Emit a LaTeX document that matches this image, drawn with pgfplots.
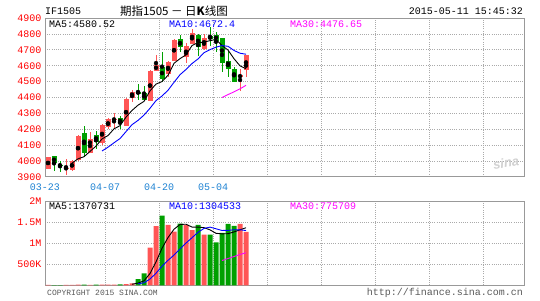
\documentclass[border=0pt]{standalone}
\usepackage{pgfplots}
\pgfplotsset{compat=1.18}
\usepackage{pgfplotstable}
\usepackage{fontspec}
\setmainfont{Liberation Sans}
\setmonofont{Liberation Mono}
\newfontfamily\cjk{Noto Sans CJK SC}
\definecolor{upc}{RGB}{255,85,85}
\definecolor{dnc}{RGB}{0,160,0}
\definecolor{tickred}{RGB}{255,0,0}
\definecolor{dateblue}{RGB}{30,130,210}
\definecolor{framec}{RGB}{153,153,153}
\definecolor{gridc}{RGB}{170,170,170}
\definecolor{ma10c}{RGB}{0,0,255}
\definecolor{ma30c}{RGB}{255,0,255}

% x = candle centre, o h l c = open high low close, v = volume (thousands)
\pgfplotstableread{
x o h l c v
0.5 3952 4026 3950 4023 8
3.5 3953 4011 3910 3955 9
4.5 3945 4006 3940 4000 10
5.5 4005 4162 4000 4157 14
7.5 4052 4185 4048 4138 12
9.5 4115 4233 4100 4227 18
10.5 4212 4268 4200 4262 15
11.5 4260 4300 4200 4264 16
13.5 4222 4395 4220 4392 30
14.5 4400 4447 4372 4437 45
17.5 4380 4572 4378 4569 895
18.5 4570 4668 4565 4604 1410
20.5 4548 4632 4530 4625 1436
21.5 4632 4766 4630 4762 1276
23.5 4653 4745 4615 4724 1436
24.5 4737 4829 4735 4808 1315
26.5 4704 4797 4700 4773 1205
32.5 4527 4578 4443 4542 1460
33.5 4574 4670 4531 4668 1270
}\uptab
\pgfplotstableread{
x o h l c v
1.5 4031 4032 3939 3985 6
2.5 3975 4002 3933 3972 7
6.5 4174 4220 4023 4052 15
8.5 4164 4187 4074 4122 14
12.5 4270 4283 4200 4237 20
15.5 4433 4485 4384 4428 150
16.5 4430 4472 4378 4384 286
19.5 4590 4688 4500 4517 1657
22.5 4768 4794 4687 4716 1467
25.5 4794 4800 4661 4720 1440
27.5 4787 4841 4724 4766 1205
28.5 4794 4814 4688 4758 1025
29.5 4772 4775 4562 4619 1250
30.5 4632 4695 4531 4578 1460
31.5 4580 4594 4498 4500 1415
}\dntab
\pgfplotstableread{
x y
4.5 3987
5.5 4013.8
6.5 4027.2
7.5 4060.4
8.5 4093.8
9.5 4139.2
10.5 4160.2
11.5 4202.6
12.5 4222.4
13.5 4276.4
14.5 4318.4
15.5 4351.6
16.5 4375.6
17.5 4442
18.5 4484.4
19.5 4500.4
20.5 4539.8
21.5 4615.4
22.5 4644.8
23.5 4668.8
24.5 4727
25.5 4746
26.5 4748.2
27.5 4758.2
28.5 4765
29.5 4727.2
30.5 4698.8
31.5 4644.2
32.5 4599.4
33.5 4580.5
}\maf
\pgfplotstableread{
x y
9.5 4063.1
10.5 4087
11.5 4114.9
12.5 4141.4
13.5 4185.1
14.5 4228.8
15.5 4255.9
16.5 4289.1
17.5 4332.2
18.5 4380.4
19.5 4409.4
20.5 4445.7
21.5 4495.5
22.5 4543.4
23.5 4576.6
24.5 4613.7
25.5 4642.9
26.5 4681.8
27.5 4701.5
28.5 4716.9
29.5 4727.1
30.5 4722.4
31.5 4696.2
32.5 4678.8
33.5 4672.4
}\mat
\pgfplotstableread{
x y
29.5 4399.9
30.5 4418.4
31.5 4435.5
32.5 4454.5
33.5 4476.7
}\mah
\pgfplotstableread{
x y
14.5 25.2
15.5 52.2
16.5 106.2
17.5 281.2
18.5 557.2
19.5 879.6
20.5 1136.8
21.5 1334.8
22.5 1449.2
23.5 1454.4
24.5 1386
25.5 1386.8
26.5 1372.6
27.5 1320.2
28.5 1238
29.5 1225
30.5 1229
31.5 1271
32.5 1322
33.5 1370.7
}\vmaf
\pgfplotstableread{
x y
15.5 33.5
16.5 60.6
17.5 148.9
18.5 288.5
19.5 452.4
20.5 594.5
21.5 720.5
22.5 865.2
23.5 1005.8
24.5 1132.8
25.5 1261.8
26.5 1353.7
27.5 1384.7
28.5 1346.2
29.5 1305.5
30.5 1307.9
31.5 1321.8
32.5 1321.1
33.5 1304.5
}\vmat
\pgfplotstableread{
x y
29.5 589.7
30.5 638.1
31.5 685.1
32.5 733.5
33.5 775.7
}\vmah

\pgfplotsset{
  kbase/.style={
    scale only axis, width=479pt, xmin=0, xmax=79.83,
    axis line style={framec, line width=1pt},
    major tick length=0pt,
    xmajorgrids, ymajorgrids,
    major grid style={gridc, line width=0.8pt, dash pattern=on 1pt off 1.2pt},
    xtick={0,10,19,28,37,46,55,64,73},
    ticklabel style={font=\ttfamily\fontsize{10}{12}\selectfont},
    yticklabel style={text=tickred},
    xticklabel style={text=dateblue, yshift=-3pt},
  },
  candle/.style={only marks, mark=none, forget plot,
    error bars/.cd, y dir=both, y explicit, error mark=none,
    error bar style={draw=#1, line width=1pt}},
  body/.style={only marks, mark=none, forget plot,
    error bars/.cd, y dir=both, y explicit, error mark=none,
    error bar style={draw=#1, line width=5pt}},
}

\begin{document}
\begin{tikzpicture}
\useasboundingbox (0pt,0pt) rectangle (540pt,300pt);
\begin{axis}[kbase,
  at={(45pt,123.1pt)}, anchor=south west, height=158.8pt,
  ymin=3900, ymax=4900,
  ytick={3900,4000,4100,4200,4300,4400,4500,4600,4700,4800,4900},
  yticklabels={3900,4000,4100,4200,4300,4400,4500,4600,4700,4800,4900},
  xticklabels={03-23,04-07,04-20,05-04,,,,,},
]
\addplot[candle=upc] table[x=x, y expr={(\thisrow{h}+\thisrow{l})/2}, y error expr={(\thisrow{h}-\thisrow{l})/2}] {\uptab};
\addplot[candle=dnc] table[x=x, y expr={(\thisrow{h}+\thisrow{l})/2}, y error expr={(\thisrow{h}-\thisrow{l})/2}] {\dntab};
\addplot[body=upc] table[x=x, y expr={(\thisrow{o}+\thisrow{c})/2}, y error expr={max(abs(\thisrow{c}-\thisrow{o})/2,3)}] {\uptab};
\addplot[body=dnc] table[x=x, y expr={(\thisrow{o}+\thisrow{c})/2}, y error expr={max(abs(\thisrow{c}-\thisrow{o})/2,3)}] {\dntab};
\addplot[black, line width=0.9pt, mark=none] table[x=x,y=y] {\maf};
\addplot[ma10c, line width=0.9pt, mark=none] table[x=x,y=y] {\mat};
\addplot[ma30c, line width=0.9pt, mark=none] table[x=x,y=y] {\mah};
\end{axis}
\begin{axis}[kbase,
  at={(45pt,14.7pt)}, anchor=south west, height=84pt,
  ymin=0, ymax=2000,
  ytick={500,1000,1500,2000},
  yticklabels={500K,1M,1.5M,2M},
  xticklabels={},
]
\addplot[ybar, bar width=5pt, bar shift=0pt, fill=upc, draw=none] table[x=x,y=v] {\uptab};
\addplot[ybar, bar width=5pt, bar shift=0pt, fill=dnc, draw=none] table[x=x,y=v] {\dntab};
\addplot[black, line width=0.9pt, mark=none] table[x=x,y=y] {\vmaf};
\addplot[ma10c, line width=0.9pt, mark=none] table[x=x,y=y] {\vmat};
\addplot[ma30c, line width=0.9pt, mark=none] table[x=x,y=y] {\vmah};
\end{axis}
% header
\node[anchor=west, inner sep=0pt, font=\ttfamily\fontsize{10}{12}\selectfont] at (45pt,289pt) {IF1505};
\node[inner sep=0pt, font=\cjk\fontsize{11.5}{13}\selectfont] at (174pt,289pt) {期指1505 － 日\textbf{K}线图};
\node[anchor=east, inner sep=0pt, font=\ttfamily\fontsize{10}{12}\selectfont] at (523pt,289pt) {2015-05-11 15:45:32};
% MA labels
\node[anchor=west, inner sep=0pt, font=\ttfamily\fontsize{10}{12}\selectfont] at (49pt,276pt) {MA5:4580.52};
\node[anchor=west, inner sep=0pt, text=ma10c, font=\ttfamily\fontsize{10}{12}\selectfont] at (169pt,276pt) {MA10:4672.4};
\node[anchor=west, inner sep=0pt, text=ma30c, font=\ttfamily\fontsize{10}{12}\selectfont] at (290pt,276pt) {MA30:4476.65};
\node[anchor=west, inner sep=0pt, font=\ttfamily\fontsize{10}{12}\selectfont] at (49pt,93.5pt) {MA5:1370731};
\node[anchor=west, inner sep=0pt, text=ma10c, font=\ttfamily\fontsize{10}{12}\selectfont] at (169pt,93.5pt) {MA10:1304533};
\node[anchor=west, inner sep=0pt, text=ma30c, font=\ttfamily\fontsize{10}{12}\selectfont] at (290pt,93.5pt) {MA30:775709};
% watermark
\node[inner sep=0pt, text=black!18, rotate=8, font=\bfseries\itshape\fontsize{13}{14}\selectfont] at (506pt,137pt) {sina};
% footer
\node[anchor=west, inner sep=0pt, text=black!65, font=\ttfamily\fontsize{8}{10}\selectfont] at (47pt,7pt) {COPYRIGHT 2015 SINA.COM};
\node[anchor=east, inner sep=0pt, text=black!65, font=\ttfamily\fontsize{10}{12}\selectfont] at (523pt,7pt) {http://finance.sina.com.cn};
\end{tikzpicture}
\end{document}
